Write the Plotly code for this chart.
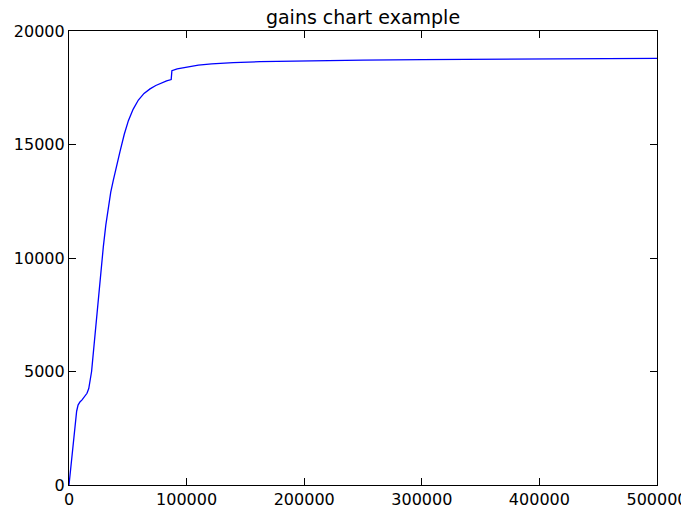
import plotly.graph_objects as go

x_vals = [0, 1000, 2000, 3000, 3900, 5400, 6500, 7700, 9300, 11100, 13300, 15300, 16800,
          18100, 19200, 20100, 21500, 23200, 24900, 27000, 29200, 31300, 33400, 35500,
          37700, 40500, 43400, 47000, 50500, 54500, 59000, 63800, 68900, 73800, 78800,
          83000, 86900, 87300, 87500, 92000, 101400, 110000, 121300, 139700, 162400,
          200000, 250000, 300000, 400000, 500000]
y_vals = [0, 480, 955, 1600, 2130, 2860, 3250, 3520, 3660, 3750, 3890, 4040, 4250,
          4625, 5000, 5500, 6300, 7300, 8300, 9450, 10500, 11450, 12260, 12900,
          13430, 14100, 14700, 15450, 16050, 16550, 16960, 17250, 17450, 17600, 17720,
          17800, 17860, 18150, 18250, 18330, 18430, 18500, 18550, 18610, 18650,
          18690, 18720, 18740, 18765, 18790]

x_ticks = [0, 100000, 200000, 300000, 400000, 500000]
y_ticks = [0, 5000, 10000, 15000, 20000]

fig = go.Figure()
fig.add_trace(go.Scatter(x=x_vals, y=y_vals, mode="lines",
                         line=dict(color="#0000ff", width=1.3)))

font = dict(family="DejaVu Sans", size=16, color="black")
axis_common = dict(showgrid=False, zeroline=False, showline=True, linecolor="black",
                   linewidth=1.2, mirror="ticks", ticks="inside", ticklen=7,
                   tickcolor="black", tickwidth=1, tickfont=font, automargin=False)
# page has an 8px body margin, so the figure is sized/offset to compensate
fig.update_layout(
    width=681, height=499,
    margin=dict(l=61, r=32, t=23, b=22),
    paper_bgcolor="white", plot_bgcolor="white",
    showlegend=False,
    title=dict(text="gains chart example", font=dict(family="DejaVu Sans", size=19, color="black"),
               x=0.5, xanchor="center", xref="paper", y=1 - 9/499, yanchor="middle"),
    xaxis=dict(range=[0, 500000], tickvals=x_ticks, ticktext=[str(v) for v in x_ticks], **axis_common),
    yaxis=dict(range=[0, 20000], tickvals=y_ticks, ticktext=[str(v) for v in y_ticks], **axis_common),
)
fig.write_html("out.html")
